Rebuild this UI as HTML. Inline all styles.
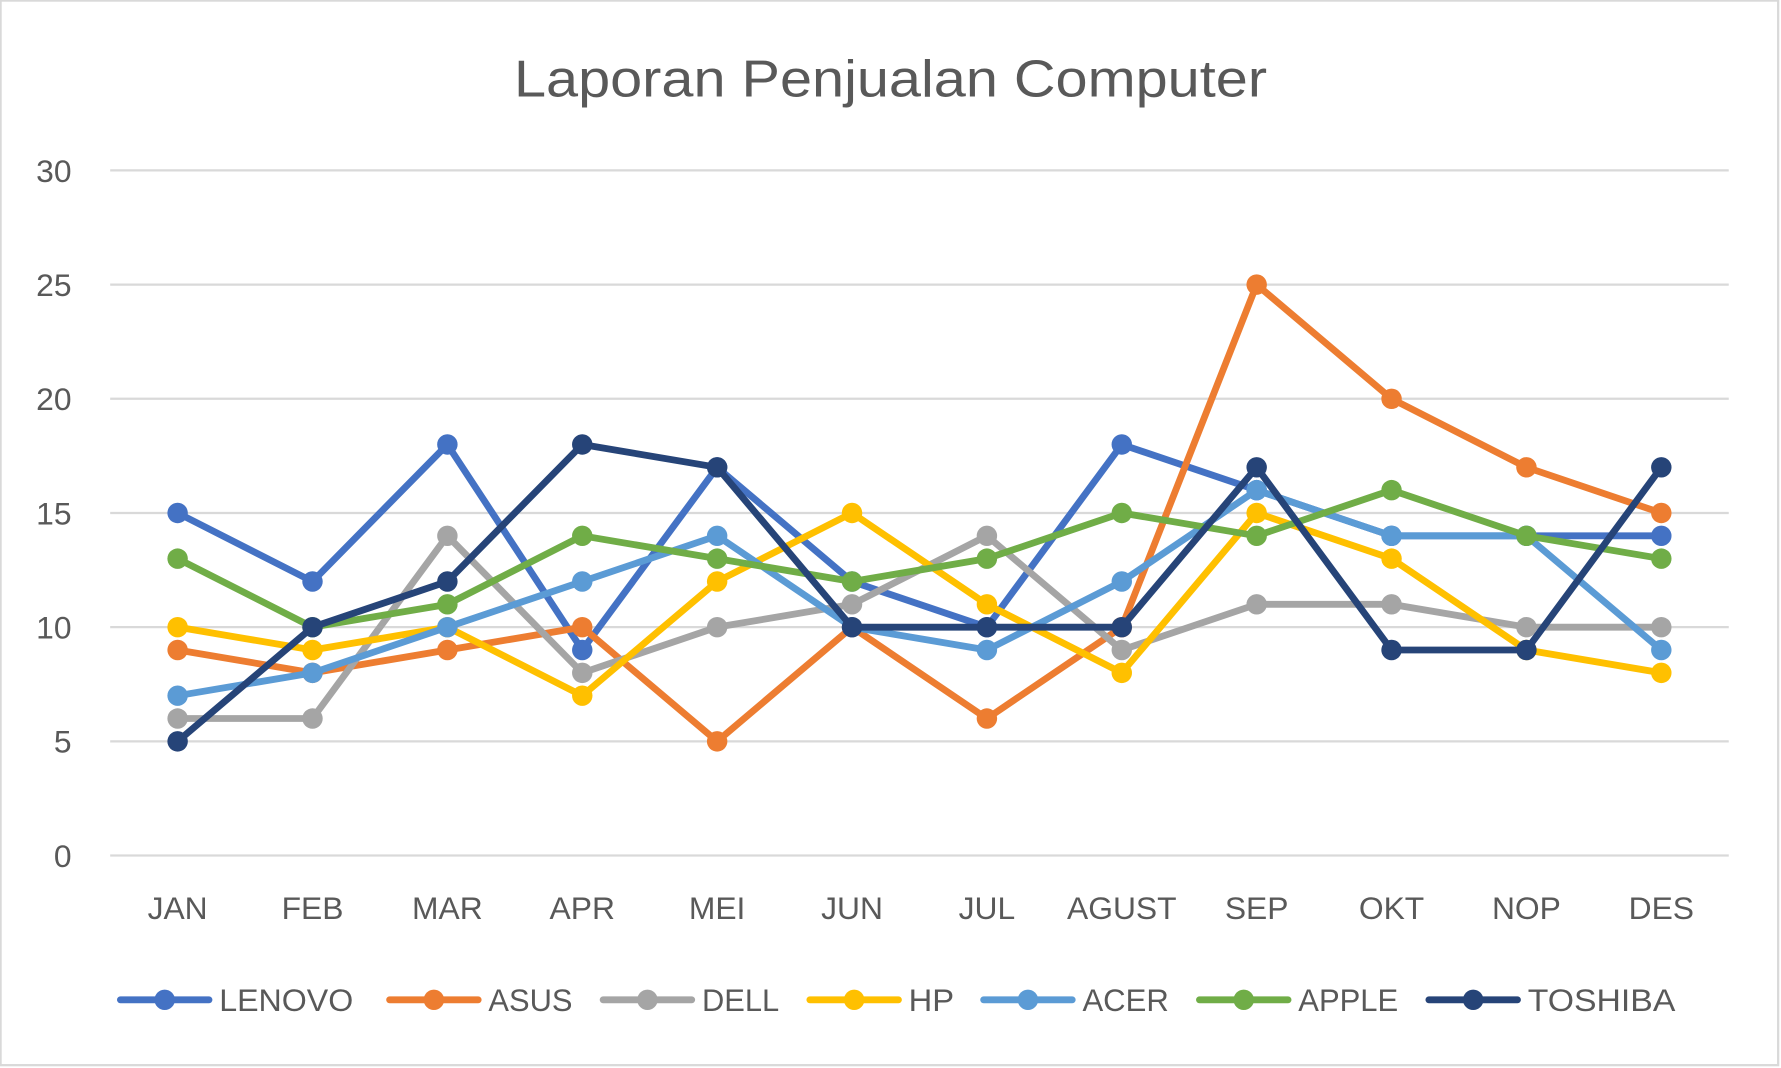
<!DOCTYPE html>
<html><head><meta charset="utf-8"><style>
html,body{margin:0;padding:0;background:#fff;}
svg{display:block;}
text{font-family:"Liberation Sans",sans-serif;fill:#595959;}
</style></head>
<body>
<svg id="chart" width="1781" height="1068" viewBox="0 0 1568 940" preserveAspectRatio="none" xmlns="http://www.w3.org/2000/svg">
<rect x="0.5" y="0.5" width="1565" height="937" fill="#fff" stroke="#d9d9d9" stroke-width="2"/>
<text x="784" y="85" font-size="46" text-anchor="middle" textLength="663" lengthAdjust="spacingAndGlyphs">Laporan Penjualan Computer</text>
<g id="grid"></g><g id="yticks"></g><g id="xticks"></g><g id="series"></g><g id="legend"></g>
</svg>
<script>
const categories=["JAN","FEB","MAR","APR","MEI","JUN","JUL","AGUST","SEP","OKT","NOP","DES"];
const yTicks=[0,5,10,15,20,25,30];
const seriesNames=["LENOVO","ASUS","DELL","HP","ACER","APPLE","TOSHIBA"];
const lenovo=[15,12,18,9,17,12,10,18,16,14,14,14];
const asus=[9,8,9,10,5,10,6,10,25,20,17,15];
const dell=[6,6,14,8,10,11,14,9,11,11,10,10];
const hp=[10,9,10,7,12,15,11,8,15,13,9,8];
const acer=[7,8,10,12,14,10,9,12,16,14,14,9];
const apple=[13,10,11,14,13,12,13,15,14,16,14,13];
const toshiba=[5,10,12,18,17,10,10,10,17,9,9,17];
const seriesValues=[lenovo,asus,dell,hp,acer,apple,toshiba];
const colors=["#4472C4","#ED7D31","#A5A5A5","#FFC000","#5B9BD5","#70AD47","#264478"];

const NS="http://www.w3.org/2000/svg";
const L=97,R=1522,T=150,B=753,ymax=30;
const band=(R-L)/categories.length;
const xs=i=>L+band*(i+0.5);
const ys=v=>B-(v/ymax)*(B-T);
function mk(tag,attrs,parent){const e=document.createElementNS(NS,tag);for(const k in attrs)e.setAttribute(k,attrs[k]);parent.appendChild(e);return e;}
const grid=document.getElementById('grid'),yt=document.getElementById('yticks'),xt=document.getElementById('xticks'),sg=document.getElementById('series'),lg=document.getElementById('legend');
yTicks.forEach(v=>{
  const l=mk('line',{x1:L,x2:R,y1:ys(v),y2:ys(v),stroke:'#d9d9d9','stroke-width':2},grid);
  
  
  const t=mk('text',{x:63,y:ys(v)+10,'font-size':28,'text-anchor':'end'},yt);
  t.textContent=v;
  
  
});
categories.forEach((c,i)=>{
  const t=mk('text',{x:xs(i),y:809,'font-size':28,'text-anchor':'middle'},xt);
  t.textContent=c;
  
  
});
seriesValues.forEach((vals,s)=>{
  const g=mk('g',{},sg);
  
  
  const p=mk('polyline',{points:vals.map((v,i)=>xs(i)+','+ys(v)).join(' '),fill:'none',stroke:colors[s],'stroke-width':6,'stroke-linejoin':'round','stroke-linecap':'round'},g);
  
  
  vals.forEach((v,i)=>{
    const c=mk('circle',{cx:xs(i),cy:ys(v),r:9,fill:colors[s]},g);
    
    
  });
});
const legX=[103,340,528,710,863,1053,1255];
const legW=[118,74,68,40,76,88,130];
seriesNames.forEach((n,s)=>{
  const g=mk('g',{},lg);
  
  
  const x=legX[s];
  mk('line',{x1:x+3,x2:x+81,y1:880,y2:880,stroke:colors[s],'stroke-width':6,'stroke-linecap':'round'},g);
  mk('circle',{cx:x+42,cy:880,r:9,fill:colors[s]},g);
  const t=mk('text',{x:x+90,y:890,'font-size':28,textLength:legW[s],lengthAdjust:'spacingAndGlyphs'},g);
  t.textContent=n;
});
</script>
</body></html>
